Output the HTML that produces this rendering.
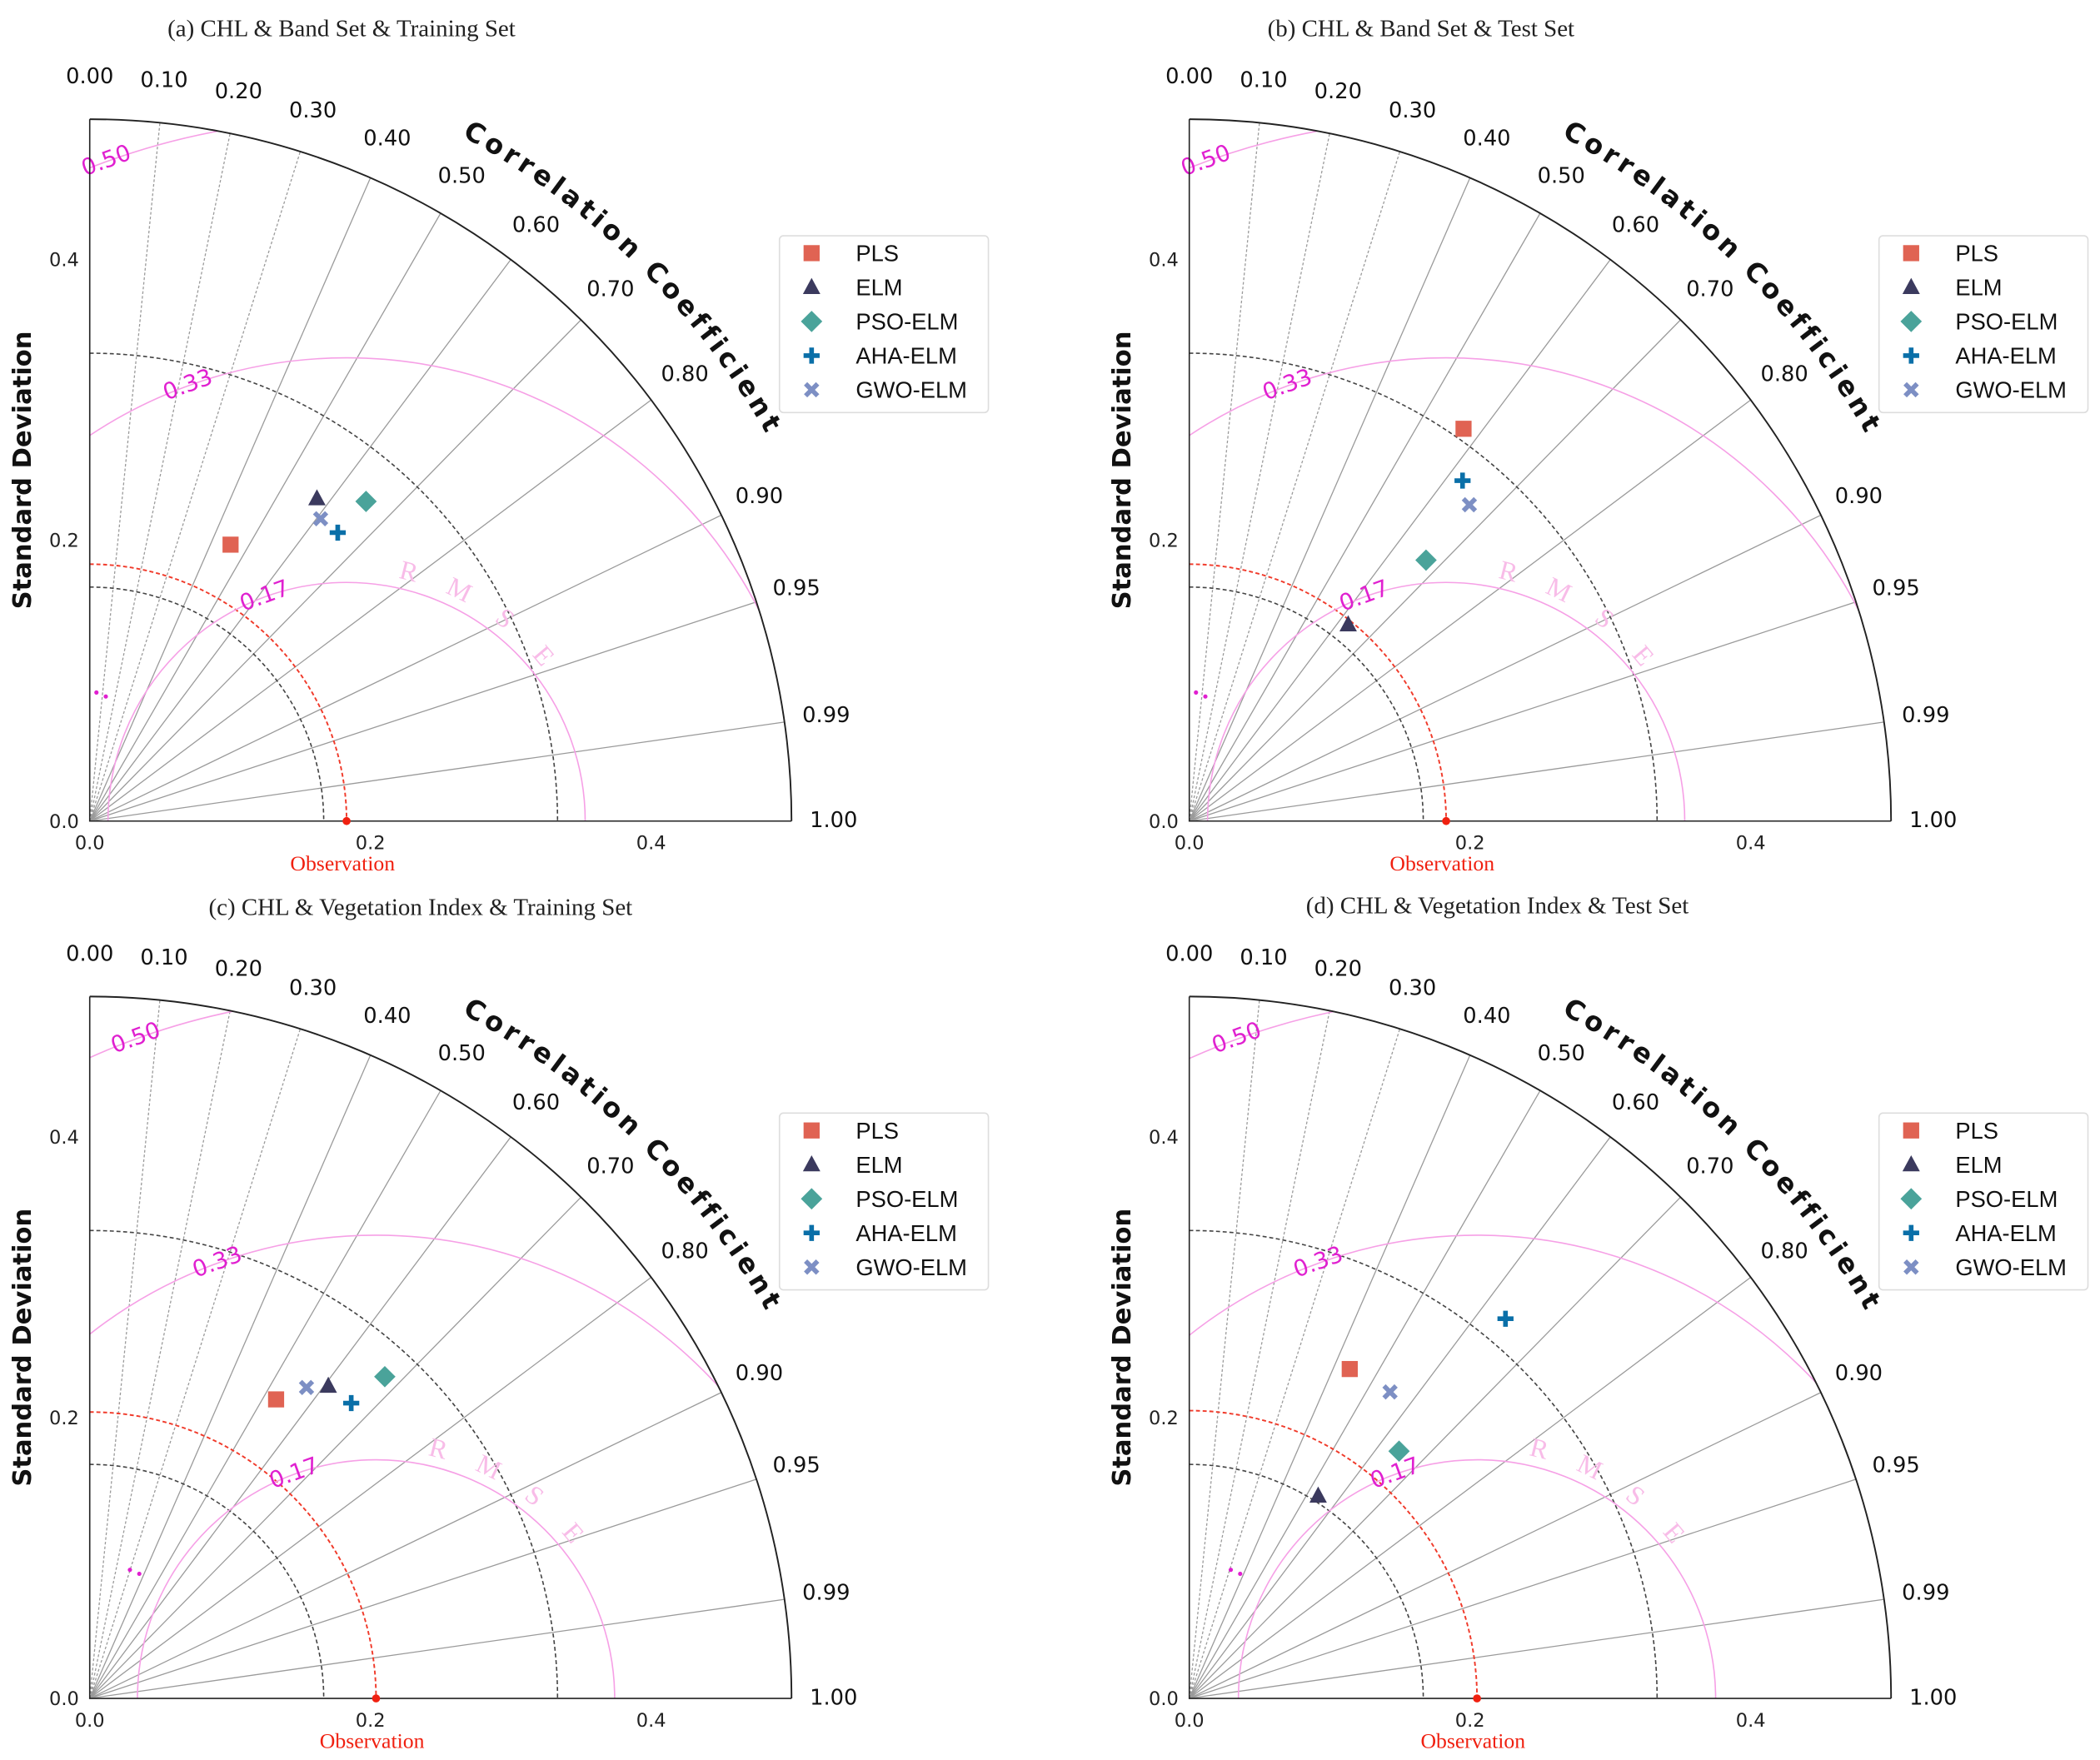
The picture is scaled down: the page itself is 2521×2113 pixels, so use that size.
<!DOCTYPE html>
<html><head><meta charset="utf-8">
<style>
html,body{margin:0;padding:0;background:#fff;overflow:hidden;width:2521px;height:2113px;}
svg{display:block;}
</style></head>
<body>
<svg id="chart" width="2521" height="2113" viewBox="0 0 1568 1314" preserveAspectRatio="none" xmlns="http://www.w3.org/2000/svg"></svg>
<script>
// ---- data ----
const methods = ["PLS","ELM","PSO-ELM","AHA-ELM","GWO-ELM"];
const panelTitles = ["(a)   CHL & Band Set & Training Set","(b)   CHL & Band Set & Test Set","(c)   CHL & Vegetation Index & Training Set","(d)   CHL & Vegetation Index & Test Set"];
const obsStd = [0.183, 0.183, 0.204, 0.205];
const stdA = [0.221, 0.281, 0.301, 0.271, 0.271];
const corrA = [0.454, 0.576, 0.654, 0.652, 0.607];
const stdB = [0.341, 0.180, 0.251, 0.311, 0.301];
const corrB = [0.573, 0.629, 0.672, 0.626, 0.663];
const stdC = [0.251, 0.280, 0.311, 0.281, 0.270];
const corrC = [0.529, 0.607, 0.676, 0.663, 0.572];
const stdD = [0.261, 0.171, 0.231, 0.352, 0.261];
const corrD = [0.438, 0.537, 0.647, 0.640, 0.548];
const corrTicks = [0.0,0.1,0.2,0.3,0.4,0.5,0.6,0.7,0.8,0.9,0.95,0.99,1.0];
const corrTickLabels = ["0.00","0.10","0.20","0.30","0.40","0.50","0.60","0.70","0.80","0.90","0.95","0.99","1.00"];
const stdTicks = [0.0,0.2,0.4];
const stdTickLabels = ["0.0","0.2","0.4"];
const rmseLevels = [0.17,0.33,0.50];
const rmseLabels = ["0.17","0.33","0.50"];
const refStd = [0.1667,0.3333];

const NS="http://www.w3.org/2000/svg";
const svg=document.getElementById('chart');
const K=1048, SMAX=0.5;
const origins=[[67,613],[888,613],[67,1268],[888,1268]];
const titleX=[255,1061,314,1118], titleY=[27,27,683,682];
const colors=["#e06353","#3b3a5e","#4aa39a","#0a6fa8","#7d8fc4"];
function el(tag,attrs,parent){const e=document.createElementNS(NS,tag);for(const k in attrs)e.setAttribute(k,attrs[k]);(parent||svg).appendChild(e);return e;}
function marker(g,type,x,y,c){
  let m;
  if(type===0) m=el('rect',{x:x-6,y:y-6,width:12,height:12,fill:c},g);
  else if(type===1) m=el('path',{d:`M${x},${y-7}L${x+6.5},${y+5}L${x-6.5},${y+5}Z`,fill:c},g);
  else if(type===2) m=el('path',{d:`M${x},${y-8}L${x+8},${y}L${x},${y+8}L${x-8},${y}Z`,fill:c},g);
  else if(type===3) m=el('path',{d:`M${x-6},${y}H${x+6}M${x},${y-6}V${y+6}`,stroke:c,'stroke-width':3.5},g);
  else m=el('path',{d:`M${x-4.5},${y-4.5}L${x+4.5},${y+4.5}M${x+4.5},${y-4.5}L${x-4.5},${y+4.5}`,stroke:c,'stroke-width':3.5},g);
  return m;
}
const allStd=[stdA,stdB,stdC,stdD], allCorr=[corrA,corrB,corrC,corrD];
for(let p=0;p<4;p++){
  const [ox,oy]=origins[p];
  const R=SMAX*K;
  const sx=s=>ox+s*K, sy=s=>oy-s*K;
  const pt=(s,c)=>[ox+s*K*c, oy-s*K*Math.sqrt(Math.max(0,1-c*c))];
  const g=el('g',{});
  
  
  const cp=el('clipPath',{id:'clip'+p},g);
  el('path',{d:`M${ox},${oy}L${ox},${oy-R}A${R},${R} 0 0 1 ${ox+R},${oy}Z`},cp);
  const t=el('text',{x:titleX[p],y:titleY[p],'text-anchor':'middle','font-family':'Liberation Serif, serif','font-size':18,fill:'#222'},g);
  t.textContent=panelTitles[p];
  
  
  for(let i=1;i<corrTicks.length-1;i++){
    const [x,y]=pt(SMAX,corrTicks[i]);
    const l=el('line',{x1:ox,y1:oy,x2:x,y2:y,stroke:'#9a9a9a','stroke-width':0.8,'stroke-dasharray':corrTicks[i]<=0.3?'2,1.5':'none'},g);
    
    
  }
  refStd.forEach(s=>{
    const r=s*K;
    const a=el('path',{d:`M${ox},${oy-r}A${r},${r} 0 0 1 ${ox+r},${oy}`,fill:'none',stroke:'#444','stroke-width':1,'stroke-dasharray':'3,2'},g);
    
    
  });
  const ro=obsStd[p]*K;
  const oa=el('path',{d:`M${ox},${oy-ro}A${ro},${ro} 0 0 1 ${ox+ro},${oy}`,fill:'none',stroke:'#f03a2a','stroke-width':1.2,'stroke-dasharray':'3,2'},g);
  
  
  const cx=sx(obsStd[p]);
  rmseLevels.forEach((r,i)=>{
    const rr=r*K;
    const c=el('path',{d:`M${cx-rr},${oy}A${rr},${rr} 0 0 1 ${cx+rr},${oy}`,fill:'none',stroke:'#f6a0e6','stroke-width':1,'clip-path':`url(#clip${p})`},g);
    
    
    const ang=110*Math.PI/180;
    const lx=cx+rr*Math.cos(ang), ly=oy-rr*Math.sin(ang);
    const tl=el('text',{x:lx,y:ly,'text-anchor':'middle','dominant-baseline':'middle','font-family':'DejaVu Sans, sans-serif','font-size':17,fill:'#e020d0',transform:`rotate(-20 ${lx} ${ly})`},g);
    tl.textContent=rmseLabels[i];
    
    
  });
  "RMSE".split('').forEach((ch,i)=>{
    const ang=(76-12*i)*Math.PI/180, rr=0.17*K+12;
    const lx=cx+rr*Math.cos(ang), ly=oy-rr*Math.sin(ang);
    const tl=el('text',{x:lx,y:ly,'text-anchor':'middle','dominant-baseline':'middle','font-family':'Liberation Serif, serif','font-size':20,fill:'#f8bce8',transform:`rotate(${90-(76-12*i)} ${lx} ${ly})`},g);
    tl.textContent=ch;
    
    
  });
  const dx0=[5,5,30,31][p];
  el('circle',{cx:ox+dx0,cy:oy-96,r:1.6,fill:'#e020d0'},g);
  el('circle',{cx:ox+dx0+7,cy:oy-93,r:1.6,fill:'#e020d0'},g);
  const ax=el('path',{d:`M${ox},${oy-R}L${ox},${oy}L${ox+R},${oy}`,fill:'none',stroke:'#222','stroke-width':1},g);
  
  
  const arc=el('path',{d:`M${ox},${oy-R}A${R},${R} 0 0 1 ${ox+R},${oy}`,fill:'none',stroke:'#222','stroke-width':1.2},g);
  
  
  stdTicks.forEach((s,i)=>{
    const ty=el('text',{x:ox-8,y:sy(s)+5,'text-anchor':'end','font-family':'DejaVu Sans, sans-serif','font-size':14,fill:'#222'},g);
    ty.textContent=stdTickLabels[i];
    
    
    const tx=el('text',{x:sx(s),y:oy+21,'text-anchor':'middle','font-family':'DejaVu Sans, sans-serif','font-size':14,fill:'#222'},g);
    tx.textContent=stdTickLabels[i];
    
    
  });
  corrTicks.forEach((c,i)=>{
    const [x,y]=pt(0.53,c);
    const tc=el('text',{x:x,y:y,'text-anchor':'middle','dominant-baseline':'middle','font-family':'DejaVu Sans, sans-serif','font-size':16,fill:'#111'},g);
    tc.textContent=corrTickLabels[i];
    
    
  });
  const rc=582, a1=82*Math.PI/180, a2=9*Math.PI/180;
  el('path',{id:'cc'+p,d:`M${ox+rc*Math.cos(a1)},${oy-rc*Math.sin(a1)}A${rc},${rc} 0 0 1 ${ox+rc*Math.cos(a2)},${oy-rc*Math.sin(a2)}`,fill:'none'},g);
  const ct=el('text',{'font-family':'DejaVu Sans, sans-serif','font-size':20,'font-weight':'bold','letter-spacing':3,fill:'#111'},g);
  
  
  const tp=el('textPath',{href:'#cc'+p,startOffset:'50%','text-anchor':'middle'},ct);
  tp.textContent='Correlation Coefficient';
  const yt=el('text',{x:ox-44,y:oy-262,'text-anchor':'middle','font-family':'DejaVu Sans, sans-serif','font-size':19,'font-weight':'bold',fill:'#111',transform:`rotate(-90 ${ox-44} ${oy-262})`},g);
  yt.textContent='Standard Deviation';
  
  
  el('circle',{cx:cx,cy:oy,r:3,fill:'#f02010'},g);
  const ob=el('text',{x:cx-3,y:oy+37,'text-anchor':'middle','font-family':'Liberation Serif, serif','font-size':16,fill:'#f02010'},g);
  ob.textContent='Observation';
  
  
  const S=allStd[p], C=allCorr[p];
  methods.forEach((m,i)=>{
    const [x,y]=pt(S[i],C[i]);
    const mk=marker(g,i,x,y,colors[i]);
    
    
  });
  const lx=ox+515, ly=oy-437;
  const lg=el('g',{},g);
  
  
  el('rect',{x:lx,y:ly,width:156,height:132,rx:3,fill:'#fff',stroke:'#ddd','stroke-width':1},lg);
  methods.forEach((m,i)=>{
    const yy=ly+13+i*25.5;
    marker(lg,i,lx+24,yy,colors[i]);
    const lt=el('text',{x:lx+57,y:yy+6,'font-family':'Liberation Sans, sans-serif','font-size':17,fill:'#111'},lg);
    lt.textContent=m;
    
    
  });
}
</script>
</body></html>
